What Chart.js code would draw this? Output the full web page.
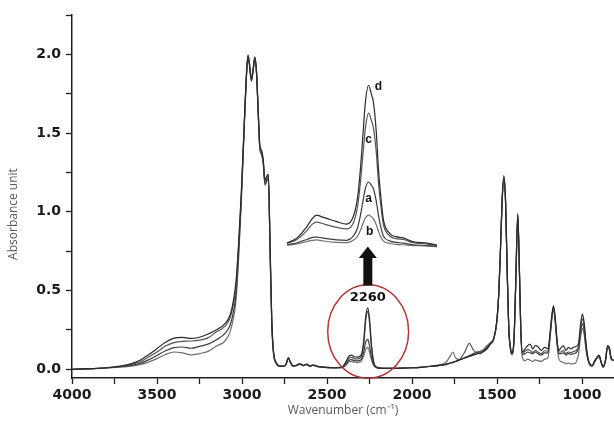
<!DOCTYPE html>
<html>
<head>
<meta charset="utf-8">
<title>FTIR spectra</title>
<script src="https://cdn.jsdelivr.net/npm/chart.js@4.4.0/dist/chart.umd.min.js"></script>
<style>
  html, body { margin: 0; padding: 0; background: #fff; }
  #wrap { position: relative; width: 614px; height: 427px; overflow: hidden; }
  #spectra { position: absolute; left: 0; top: 0; }
  #inset { position: absolute; left: 286px; top: 80px; }
</style>
</head>
<body>
<div id="wrap">
  <canvas id="spectra" width="614" height="427"></canvas>
  <canvas id="inset" width="152" height="170"></canvas>
</div>
<script>
// wavenumber (cm-1), shared by the four spectra
const wavenumber = [
  4000, 3900, 3800, 3700, 3650, 3600, 3550, 3500, 3450, 3400,
  3350, 3300, 3250, 3200, 3150, 3100, 3070, 3050, 3035, 3020,
  3005, 2990, 2975, 2965, 2958, 2945, 2935, 2925, 2915, 2905,
  2895, 2885, 2875, 2865, 2855, 2845, 2835, 2825, 2815, 2800,
  2780, 2755, 2740, 2728, 2715, 2700, 2680, 2660, 2640, 2620,
  2600, 2580, 2560, 2540, 2500, 2450, 2410, 2390, 2370, 2355,
  2340, 2320, 2300, 2285, 2272, 2260, 2250, 2238, 2225, 2210,
  2190, 2150, 2100, 2050, 2000, 1950, 1900, 1850, 1800, 1775,
  1760, 1745, 1720, 1690, 1663, 1640, 1620, 1600, 1580, 1560,
  1540, 1520, 1502, 1490, 1480, 1470, 1460, 1450, 1440, 1430,
  1420, 1413, 1400, 1390, 1378, 1368, 1360, 1350, 1335, 1320,
  1305, 1290, 1275, 1260, 1240, 1220, 1200, 1188, 1178, 1168,
  1158, 1148, 1138, 1125, 1110, 1095, 1080, 1065, 1050, 1035,
  1020, 1008, 998, 988, 975, 963, 950, 940, 928, 914,
  900, 888, 876, 862, 850, 840, 828, 815
];

const absD = [
  0.000, 0.004, 0.010, 0.024, 0.036, 0.058, 0.092, 0.132, 0.172, 0.198,
  0.203, 0.196, 0.204, 0.224, 0.252, 0.290, 0.345, 0.440, 0.560, 0.800,
  1.100, 1.480, 1.850, 1.995, 1.960, 1.840, 1.905, 1.985, 1.900, 1.650,
  1.420, 1.390, 1.330, 1.200, 1.225, 1.240, 0.800, 0.320, 0.120, 0.045,
  0.022, 0.020, 0.036, 0.075, 0.045, 0.022, 0.026, 0.036, 0.025, 0.034,
  0.022, 0.028, 0.020, 0.016, 0.012, 0.010, 0.016, 0.046, 0.085, 0.090,
  0.080, 0.078, 0.090, 0.170, 0.340, 0.390, 0.320, 0.150, 0.045, 0.015,
  0.008, 0.006, 0.006, 0.008, 0.010, 0.013, 0.018, 0.024, 0.032, 0.040,
  0.044, 0.050, 0.060, 0.072, 0.082, 0.090, 0.098, 0.104, 0.112, 0.130,
  0.160, 0.192, 0.300, 0.480, 0.760, 1.080, 1.230, 1.080, 0.620, 0.250,
  0.130, 0.100, 0.200, 0.550, 0.990, 0.620, 0.250, 0.110, 0.130, 0.150,
  0.160, 0.130, 0.150, 0.145, 0.120, 0.140, 0.130, 0.230, 0.340, 0.405,
  0.330, 0.200, 0.120, 0.135, 0.150, 0.120, 0.140, 0.130, 0.140, 0.145,
  0.170, 0.290, 0.350, 0.300, 0.150, 0.060, 0.030, 0.025, 0.050, 0.075,
  0.090, 0.050, 0.015, 0.060, 0.150, 0.140, 0.070, 0.060
];

const absC = [
  0.000, 0.004, 0.010, 0.021, 0.031, 0.048, 0.078, 0.110, 0.148, 0.170,
  0.178, 0.180, 0.186, 0.200, 0.238, 0.274, 0.328, 0.418, 0.530, 0.780,
  1.090, 1.470, 1.850, 1.990, 1.955, 1.848, 1.900, 1.980, 1.892, 1.642,
  1.410, 1.378, 1.320, 1.188, 1.212, 1.228, 0.780, 0.305, 0.112, 0.042,
  0.021, 0.019, 0.035, 0.073, 0.044, 0.022, 0.025, 0.034, 0.024, 0.032,
  0.021, 0.027, 0.019, 0.016, 0.012, 0.010, 0.014, 0.038, 0.072, 0.076,
  0.068, 0.066, 0.078, 0.150, 0.312, 0.368, 0.296, 0.135, 0.040, 0.014,
  0.008, 0.006, 0.006, 0.008, 0.010, 0.013, 0.018, 0.024, 0.032, 0.040,
  0.044, 0.050, 0.062, 0.110, 0.165, 0.125, 0.105, 0.112, 0.118, 0.128,
  0.158, 0.190, 0.298, 0.476, 0.752, 1.070, 1.215, 1.070, 0.612, 0.245,
  0.128, 0.098, 0.196, 0.545, 0.980, 0.612, 0.245, 0.105, 0.115, 0.125,
  0.120, 0.108, 0.120, 0.110, 0.100, 0.118, 0.115, 0.220, 0.330, 0.395,
  0.320, 0.190, 0.110, 0.110, 0.120, 0.100, 0.110, 0.105, 0.115, 0.120,
  0.150, 0.265, 0.320, 0.280, 0.140, 0.058, 0.028, 0.024, 0.048, 0.072,
  0.088, 0.048, 0.015, 0.058, 0.146, 0.136, 0.068, 0.058
];

const absA = [
  0.000, 0.003, 0.009, 0.018, 0.025, 0.038, 0.060, 0.088, 0.118, 0.138,
  0.142, 0.134, 0.146, 0.160, 0.188, 0.228, 0.280, 0.368, 0.482, 0.742,
  1.062, 1.460, 1.840, 1.982, 1.950, 1.830, 1.890, 1.972, 1.888, 1.638,
  1.402, 1.368, 1.310, 1.176, 1.200, 1.215, 0.765, 0.295, 0.105, 0.040,
  0.020, 0.019, 0.034, 0.072, 0.043, 0.021, 0.024, 0.033, 0.024, 0.031,
  0.021, 0.026, 0.019, 0.015, 0.011, 0.010, 0.012, 0.030, 0.058, 0.062,
  0.055, 0.054, 0.062, 0.105, 0.175, 0.190, 0.150, 0.075, 0.028, 0.012,
  0.008, 0.006, 0.006, 0.008, 0.010, 0.013, 0.018, 0.024, 0.032, 0.040,
  0.044, 0.050, 0.060, 0.072, 0.085, 0.095, 0.108, 0.098, 0.120, 0.140,
  0.165, 0.190, 0.296, 0.472, 0.748, 1.062, 1.205, 1.062, 0.605, 0.240,
  0.125, 0.096, 0.192, 0.538, 0.970, 0.605, 0.238, 0.095, 0.100, 0.110,
  0.105, 0.100, 0.110, 0.100, 0.090, 0.105, 0.105, 0.215, 0.325, 0.390,
  0.315, 0.185, 0.100, 0.100, 0.105, 0.090, 0.100, 0.095, 0.100, 0.105,
  0.140, 0.240, 0.290, 0.250, 0.125, 0.055, 0.025, 0.022, 0.045, 0.070,
  0.085, 0.046, 0.014, 0.056, 0.142, 0.132, 0.066, 0.056
];

const absB = [
  0.000, 0.003, 0.008, 0.015, 0.020, 0.030, 0.046, 0.068, 0.094, 0.110,
  0.104, 0.092, 0.100, 0.114, 0.148, 0.180, 0.238, 0.328, 0.442, 0.702,
  1.040, 1.450, 1.838, 1.978, 1.945, 1.838, 1.890, 1.970, 1.880, 1.630,
  1.398, 1.362, 1.305, 1.168, 1.192, 1.205, 0.750, 0.285, 0.100, 0.038,
  0.020, 0.018, 0.033, 0.070, 0.042, 0.021, 0.024, 0.032, 0.023, 0.030,
  0.020, 0.026, 0.018, 0.015, 0.011, 0.009, 0.010, 0.024, 0.048, 0.050,
  0.045, 0.044, 0.050, 0.085, 0.128, 0.140, 0.110, 0.058, 0.024, 0.011,
  0.008, 0.006, 0.006, 0.008, 0.010, 0.013, 0.019, 0.027, 0.045, 0.085,
  0.110, 0.075, 0.062, 0.075, 0.088, 0.100, 0.110, 0.114, 0.125, 0.150,
  0.170, 0.195, 0.300, 0.478, 0.755, 1.072, 1.220, 1.072, 0.615, 0.242,
  0.122, 0.094, 0.190, 0.540, 0.978, 0.610, 0.232, 0.070, 0.055, 0.065,
  0.058, 0.050, 0.060, 0.055, 0.050, 0.065, 0.075, 0.200, 0.310, 0.380,
  0.300, 0.170, 0.075, 0.050, 0.045, 0.035, 0.040, 0.035, 0.035, 0.045,
  0.100, 0.210, 0.260, 0.225, 0.110, 0.050, 0.022, 0.020, 0.042, 0.066,
  0.080, 0.044, 0.014, 0.054, 0.138, 0.128, 0.064, 0.054
];

// enlarged nitrile band around 2260 cm-1
const insetWavenumber = [
  2408, 2390, 2372, 2362, 2354, 2345, 2336, 2318, 2300, 2288,
  2280, 2275, 2270, 2266, 2260, 2255, 2251, 2246, 2242, 2237,
  2233, 2221, 2210, 2197, 2179, 2154, 2136
];
const insetD = [
  0.017, 0.030, 0.058, 0.078, 0.086, 0.082, 0.078, 0.070, 0.064, 0.082,
  0.130, 0.198, 0.290, 0.363, 0.407, 0.385, 0.363, 0.290, 0.198, 0.120,
  0.074, 0.040, 0.033, 0.030, 0.020, 0.017, 0.012
];
const insetC = [
  0.017, 0.026, 0.048, 0.064, 0.069, 0.066, 0.062, 0.056, 0.052, 0.066,
  0.108, 0.165, 0.240, 0.300, 0.338, 0.320, 0.300, 0.240, 0.165, 0.100,
  0.062, 0.034, 0.028, 0.026, 0.018, 0.015, 0.011
];
const insetA = [
  0.013, 0.018, 0.026, 0.031, 0.032, 0.030, 0.028, 0.025, 0.024, 0.034,
  0.055, 0.085, 0.122, 0.152, 0.168, 0.160, 0.150, 0.120, 0.085, 0.052,
  0.034, 0.022, 0.019, 0.017, 0.013, 0.011, 0.009
];
const insetB = [
  0.012, 0.015, 0.021, 0.024, 0.025, 0.023, 0.021, 0.019, 0.018, 0.024,
  0.034, 0.048, 0.066, 0.079, 0.086, 0.082, 0.077, 0.062, 0.046, 0.030,
  0.022, 0.016, 0.014, 0.013, 0.011, 0.010, 0.008
];

const sampleNames = ['d', 'c', 'a', 'b'];
const xMajorTicks = [4000, 3500, 3000, 2500, 2000, 1500, 1000];
const xMinorTicks = [3750, 3250, 2750, 2250, 1750, 1250];
const yMajorTicks = [0.0, 0.5, 1.0, 1.5, 2.0];
const yMinorTicks = [0.25, 0.75, 1.25, 1.75, 2.25];

const lineColors = ['#2a2a2a', '#555555', '#3c3c3c', '#6e6e6e'];
const tickFont = { family: 'DejaVu Sans', size: 14, weight: 'bold' };
const axisInk = '#1e1e1e';

const toPoints = (xs, ys) => xs.map((x, i) => ({ x, y: ys[i] }));

function spectrumDatasets(xs, series, width) {
  return series.map((ys, i) => ({
    label: sampleNames[i],
    data: toPoints(xs, ys),
    borderColor: lineColors[i],
    borderWidth: width,
    pointRadius: 0,
    cubicInterpolationMode: 'monotone',
    fill: false
  }));
}

// circle + arrow + "2260" callout, axis titles
const calloutPlugin = {
  id: 'callout',
  afterDatasetsDraw(chart) {
    const { ctx, scales: { x, y } } = chart;
    ctx.save();

    // red ellipse round the 2260 band
    const cx = x.getPixelForValue(2258);
    const cy = y.getPixelForValue(0.24);
    const rx = Math.abs(x.getPixelForValue(2258 - 238) - cx);
    const ry = Math.abs(y.getPixelForValue(0.24 + 0.297) - cy);
    ctx.strokeStyle = '#b4373c';
    ctx.lineWidth = 1.5;
    ctx.beginPath();
    ctx.ellipse(cx, cy, rx, ry, 0, 0, Math.PI * 2);
    ctx.stroke();

    // label
    ctx.fillStyle = '#111';
    ctx.font = 'bold 13px "DejaVu Sans"';
    ctx.textAlign = 'center';
    ctx.textBaseline = 'middle';
    ctx.fillText('2260', x.getPixelForValue(2260), y.getPixelForValue(0.455));

    // arrow pointing up to the inset
    const ax = x.getPixelForValue(2260);
    const shaftBottom = y.getPixelForValue(0.532);
    const headBase = y.getPixelForValue(0.71);
    const tip = y.getPixelForValue(0.78);
    ctx.fillRect(ax - 4.5, headBase, 9, shaftBottom - headBase);
    ctx.beginPath();
    ctx.moveTo(ax - 9, headBase + 0.5);
    ctx.lineTo(ax + 9, headBase + 0.5);
    ctx.lineTo(ax, tip);
    ctx.closePath();
    ctx.fill();

    // axis titles
    ctx.fillStyle = '#5a5a5a';
    ctx.font = '12px "Open Sans"';
    ctx.fillText('Wavenumber (cm\u207B\u00B9)', (chart.chartArea.left + chart.chartArea.right) / 2, 411);
    ctx.translate(14, 214);
    ctx.rotate(-Math.PI / 2);
    ctx.fillText('Absorbance unit', 0, 0);
    ctx.restore();
  }
};

new Chart(document.getElementById('spectra'), {
  type: 'line',
  data: { datasets: spectrumDatasets(wavenumber, [absD, absC, absA, absB], 1.2) },
  options: {
    responsive: false,
    animation: false,
    layout: { padding: { left: 0, right: 0, top: 15, bottom: 0 } },
    plugins: { legend: { display: false }, tooltip: { enabled: false } },
    scales: {
      x: {
        type: 'linear',
        reverse: true,
        min: 812,
        max: 4000,
        afterBuildTicks: s => {
          s.ticks = [...xMajorTicks, ...xMinorTicks].sort((a, b) => b - a).map(value => ({ value }));
        },
        afterFit: s => { s.height = 49; },
        grid: { drawOnChartArea: false, tickLength: 6, tickColor: axisInk, tickWidth: 1.3 },
        border: { color: axisInk, width: 1.5 },
        ticks: {
          font: tickFont,
          color: '#1a1a1a',
          padding: 3,
          maxRotation: 0,
          autoSkip: false,
          callback: v => xMajorTicks.includes(v) ? String(v) : ''
        }
      },
      y: {
        min: -0.055,
        max: 2.25,
        afterBuildTicks: s => {
          s.ticks = [...yMajorTicks, ...yMinorTicks].sort((a, b) => a - b).map(value => ({ value }));
        },
        afterFit: s => { s.width = 72; },
        grid: { drawOnChartArea: false, tickLength: 6, tickColor: axisInk, tickWidth: 1.3 },
        border: { color: axisInk, width: 1.5 },
        ticks: {
          font: tickFont,
          color: '#1a1a1a',
          padding: 5,
          autoSkip: false,
          callback: v => yMajorTicks.includes(v) ? v.toFixed(1) : ''
        }
      }
    }
  },
  plugins: [calloutPlugin]
});

// letters on the enlarged peaks
const insetLetters = {
  id: 'insetLetters',
  afterDatasetsDraw(chart) {
    const { ctx, scales: { x, y } } = chart;
    const spots = [[2242, 0.403], [2260, 0.272], [2260, 0.128], [2258, 0.045]];
    ctx.save();
    ctx.fillStyle = '#111';
    ctx.font = 'bold 12px "Liberation Sans"';
    ctx.textAlign = 'center';
    ctx.textBaseline = 'middle';
    sampleNames.forEach((name, i) => {
      ctx.fillText(name, x.getPixelForValue(spots[i][0]), y.getPixelForValue(spots[i][1]));
    });
    ctx.restore();
  }
};

new Chart(document.getElementById('inset'), {
  type: 'line',
  data: { datasets: spectrumDatasets(insetWavenumber, [insetD, insetC, insetA, insetB], 1.2) },
  options: {
    responsive: false,
    animation: false,
    layout: { padding: 0 },
    plugins: { legend: { display: false }, tooltip: { enabled: false } },
    scales: {
      x: { type: 'linear', reverse: true, min: 2134, max: 2410, display: false },
      y: { min: 0, max: 0.42, display: false }
    }
  },
  plugins: [insetLetters]
});
</script>
</body>
</html>
